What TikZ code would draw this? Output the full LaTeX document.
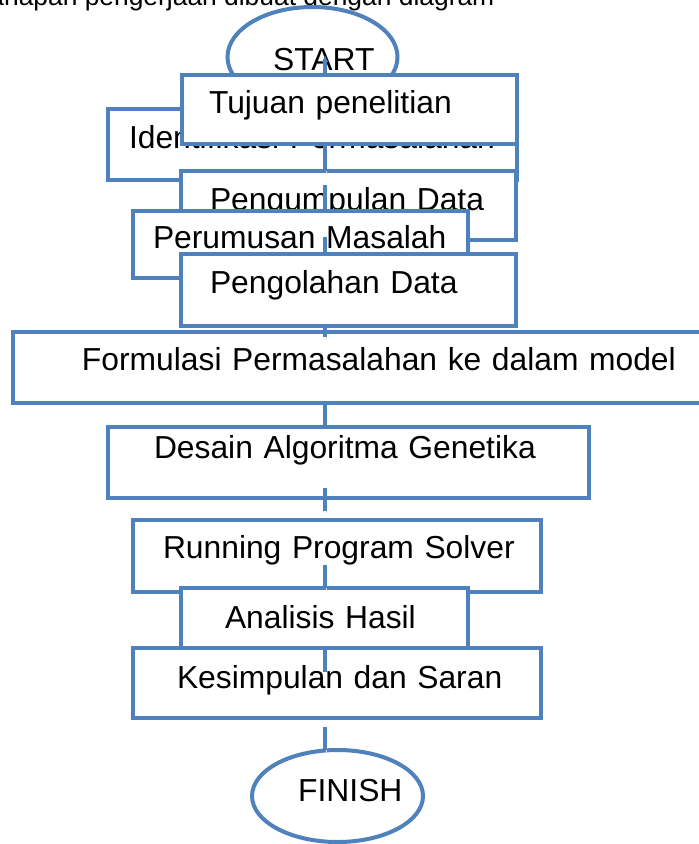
\documentclass[tikz,border=0pt]{standalone}
\usepackage{fontspec}
\setmainfont{Liberation Sans}
\usetikzlibrary{arrows.meta,shapes.geometric}
\definecolor{flowblue}{RGB}{79,129,189}

\begin{document}
\begin{tikzpicture}[
  x=1pt, y=-1pt,
  font=\fontsize{31.8pt}{36pt}\selectfont,
  box/.style={draw=flowblue, line width=4pt, fill=white, anchor=north west, inner sep=0pt, outer sep=0pt, align=left},
  lead/.style={execute at begin node={\noindent\hspace*{#1}}},
  oval/.style={draw=flowblue, line width=4pt, fill=white, ellipse, inner sep=0pt, outer sep=0pt},
  word/.style={anchor=base west, inner sep=0pt},
  link/.style={draw=flowblue, line width=4pt},
  shadowed/.style={preaction={draw=black!15, transform canvas={shift={(1.5pt,-2pt)}}}}]
\path[use as bounding box, fill=white] (0,0) rectangle (699,844);
\coordinate (spine) at (325,0);
\coordinate (startpin) at (325,50);
\coordinate (gatherpin) at (325,185);
\coordinate (rumuspin) at (325,237);
\coordinate (formpin) at (325,337);
\coordinate (desainpin) at (325,488);
\coordinate (desainend) at (325,511);
\coordinate (runpin) at (325,565);
\coordinate (simpulpin) at (325,672);
\coordinate (finishpin) at (325,727);
\node[word, font=\fontsize{26.4pt}{30pt}\selectfont] (caption) at (-24,5) {Tahapan pengerjaan dibuat dengan diagram};
\node[oval, minimum width=170pt, minimum height=100pt] (start) at (312.5,57) {};
\node[word] (starttext) at (273,70) {START};
\node[box, text width=409pt, text height=39pt, text depth=32pt, lead=21pt] (ident) at (108,109) {Identifikasi Permasalahan};
\node[box, text width=335pt, text height=38pt, text depth=31pt, lead=27pt] (tujuan) at (182,75) {Tujuan penelitian};
\draw[link, -{Triangle[length=12pt, width=4pt]}] (spine |- tujuan.north) -- (startpin);
\node[box, text width=335pt, text height=39pt, text depth=30pt, lead=29pt] (kumpul) at (181,171) {Pengumpulan Data};
\draw[link, shadowed] (spine |- tujuan.south) -- (spine |- kumpul.north);
\node[box, text width=335pt, text height=37pt, text depth=30pt, lead=20pt] (rumus) at (133,211) {Perumusan Masalah};
\draw[link] (gatherpin) -- (spine |- rumus.north);
\node[box, text width=335pt, text height=39pt, text depth=33pt, lead=29pt] (olah) at (181,254) {Pengolahan Data};
\draw[link] (rumuspin) -- (spine |- olah.north);
\node[box, text width=748pt, text height=38pt, text depth=33pt, lead=69.5pt] (formula) at (12.5,332) {Formulasi Permasalahan ke dalam model};
\draw[link, shadowed] (spine |- olah.south) -- (formpin);
\node[box, text width=481pt, text height=31pt, text depth=40pt, lead=46pt] (desain) at (108,427) {Desain Algoritma Genetika};
\draw[link] (spine |- formula.south) -- (spine |- desain.north);
\draw[link, shadowed] (desainpin) -- (desainend);
\node[box, text width=408pt, text height=38pt, text depth=34pt, lead=30pt] (running) at (133,520) {Running Program Solver};
\node[box, text width=287pt, text height=40pt, text depth=32pt, lead=44pt] (analisis) at (181,588) {Analisis Hasil};
\draw[link, shadowed] (runpin) -- (spine |- analisis.north);
\node[box, text width=408pt, text height=40pt, text depth=30pt, lead=44pt] (simpul) at (133,648) {Kesimpulan dan Saran};
\draw[link] (spine |- simpul.north) -- (simpulpin);
\node[oval, minimum width=171pt, minimum height=92pt] (finish) at (337.5,796) {};
\node[word] (finishtext) at (298,801) {FINISH};
\draw[link, shadowed] (finishpin) -- (spine |- finish.north);
\end{tikzpicture}
\end{document}
